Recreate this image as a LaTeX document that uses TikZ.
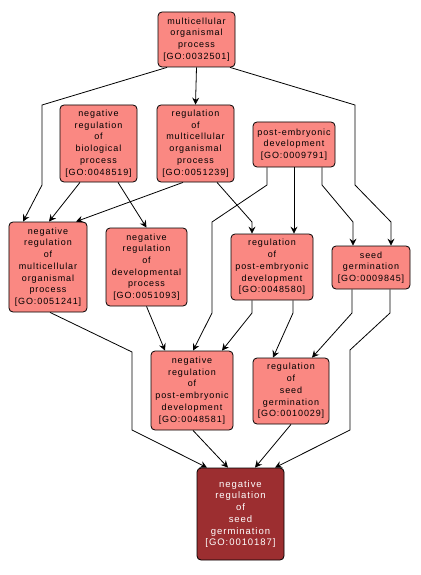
\documentclass[tikz,border=0pt]{standalone}
\usepackage{fontspec}
\newfontfamily\lab[LetterSpace=10]{Liberation Sans}
\usetikzlibrary{arrows.meta}
\definecolor{gofill}{RGB}{250,136,130}
\definecolor{godark}{RGB}{156,46,48}
\tikzset{
  gonode/.style={draw=black, line width=0.8bp, fill=gofill, rounded corners=4bp,
    align=center, inner sep=0pt, font=\lab\fontsize{9bp}{11.7bp}\selectfont},
  darknode/.style={gonode, fill=godark, text=white, font=\lab\fontsize{9.5bp}{11.7bp}\selectfont},
  sz/.style 2 args={minimum width=#1bp, minimum height=#2bp},
  edge/.style={draw=black, line width=0.8bp, -{Stealth[length=7bp,width=7bp,inset=2.5bp]}}
}
\begin{document}
\begin{tikzpicture}[x=1bp,y=-1bp]
\useasboundingbox (0,0) rectangle (420,575);
\node[gonode, sz={77}{55}] (A) at (196.5,39.5) {multicellular\\organismal\\process\\{[GO:0032501]}};
\node[gonode, sz={77}{77}] (B) at (98.5,143.5) {negative\\regulation\\of\\biological\\process\\{[GO:0048519]}};
\node[gonode, sz={77}{77}] (C) at (195.5,143.5) {regulation\\of\\multicellular\\organismal\\process\\{[GO:0051239]}};
\node[gonode, sz={82}{45}] (D) at (294,144.5) {post-embryonic\\development\\{[GO:0009791]}};
\node[gonode, sz={78}{90}] (E) at (48,267) {negative\\regulation\\of\\multicellular\\organismal\\process\\{[GO:0051241]}};
\node[gonode, sz={81}{78}] (F) at (146.5,267) {negative\\regulation\\of\\developmental\\process\\{[GO:0051093]}};
\node[gonode, sz={82}{66}] (G) at (272,267) {regulation\\of\\post-embryonic\\development\\{[GO:0048580]}};
\node[gonode, sz={78}{43}] (H) at (371,267.5) {seed\\germination\\{[GO:0009845]}};
\node[gonode, sz={82}{79}] (I) at (192,390.5) {negative\\regulation\\of\\post-embryonic\\development\\{[GO:0048581]}};
\node[gonode, sz={76}{66}] (J) at (291,391) {regulation\\of\\seed\\germination\\{[GO:0010029]}};
\node[darknode, sz={87}{92}] (K) at (240.5,514) {negative\\regulation\\of\\seed\\germination\\{[GO:0010187]}};

\draw[edge] (A.south) -- (C.north);
\draw[edge] ([xshift=-29.5bp]A.south) -- (42,105) -- (42,185) -- ([xshift=-25bp]E.north);
\draw[edge] ([xshift=33.5bp]A.south) -- (355,105) -- (355,185) -- (391,222) -- ([xshift=20bp]H.north);
\draw[edge] ([xshift=-18.5bp]B.south) -- ([xshift=1bp]E.north);
\draw[edge] ([xshift=19.5bp]B.south) -- (F.north);
\draw[edge] ([xshift=-12.5bp]C.south) -- ([xshift=28bp]E.north);
\draw[edge] ([xshift=21.5bp]C.south) -- (252,222) -- ([xshift=-20bp]G.north);
\draw[edge] ([xshift=-27bp]D.south) -- (267,185) -- (212,222) -- (212,313) -- ([xshift=1bp]I.north);
\draw[edge] (D.south) -- (G.north -| D.south);
\draw[edge] ([xshift=28bp]D.south) -- (322,185) -- (353,222) -- ([xshift=-18bp]H.north);
\draw[edge] ([xshift=2bp]E.south) -- (132,352) -- (132,430) -- ([xshift=-33.5bp]K.north);
\draw[edge] (F.south) -- ([xshift=-27bp]I.north);
\draw[edge] ([xshift=-20bp]G.south) -- (252,313) -- ([xshift=30bp]I.north);
\draw[edge] ([xshift=21bp]G.south) -- (293,313) -- ([xshift=-18bp]J.north);
\draw[edge] ([xshift=-19bp]H.south) -- (352,313) -- ([xshift=21bp]J.north);
\draw[edge] ([xshift=19bp]H.south) -- (390,313) -- (350,350) -- (350,430) -- ([xshift=34.5bp]K.north);
\draw[edge] ([xshift=1bp]I.south) -- ([xshift=-12.5bp]K.north);
\draw[edge] (J.south) -- ([xshift=14.5bp]K.north);
\end{tikzpicture}
\end{document}
